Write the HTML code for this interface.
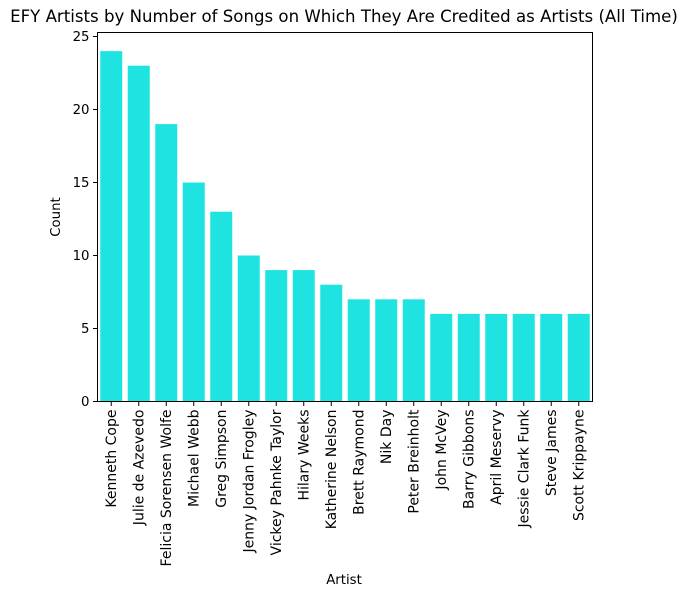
<!DOCTYPE html>
<html><head><meta charset="utf-8"><style>
body{margin:0;background:#fff;}
svg text{font-family:"DejaVu Sans","Liberation Sans",sans-serif;fill:#000;}
</style></head><body>
<svg id="chart" width="688" height="597" xmlns="http://www.w3.org/2000/svg">
<rect width="688" height="597" fill="#fff"/>
<text x="344" y="22" text-anchor="middle" font-size="16.6">EFY Artists by Number of Songs on Which They Are Credited as Artists (All Time)</text>
<g id="bars"></g><g id="xticks"></g><g id="yticks"></g>
<rect x="97.5" y="32.5" width="495" height="369" fill="none" stroke="#000" stroke-width="1"/>
<text x="344" y="584" text-anchor="middle" font-size="13.3">Artist</text>
<text transform="translate(60,217) rotate(-90)" text-anchor="middle" font-size="13.3">Count</text>
</svg>
<script>
const categories=["Kenneth Cope","Julie de Azevedo","Felicia Sorensen Wolfe","Michael Webb","Greg Simpson","Jenny Jordan Frogley","Vickey Pahnke Taylor","Hilary Weeks","Katherine Nelson","Brett Raymond","Nik Day","Peter Breinholt","John McVey","Barry Gibbons","April Meservy","Jessie Clark Funk","Steve James","Scott Krippayne"];
const counts=[24,23,19,15,13,10,9,9,8,7,7,7,6,6,6,6,6,6];
const yTicks=[0,5,10,15,20,25];
const NS="http://www.w3.org/2000/svg";
const L=97.5,R=592.5,B=401.5,ppu=14.6;
const band=(R-L)/categories.length;
const xs=i=>L+band*(i+0.5);
const ys=v=>B-v*ppu;
const bars=document.getElementById('bars'),xt=document.getElementById('xticks'),yt=document.getElementById('yticks');
function mk(t,a){const e=document.createElementNS(NS,t);for(const k in a)e.setAttribute(k,a[k]);return e;}
categories.forEach((c,i)=>{
 const w=band*0.8;
 const r=mk('rect',{x:xs(i)-w/2,y:ys(counts[i]),width:w,height:counts[i]*ppu,fill:'#1fe3e0'});
 
 
 bars.appendChild(r);
 const tk=mk('line',{x1:xs(i),x2:xs(i),y1:B,y2:B+4.5,stroke:'#000'});
 
 
 xt.appendChild(tk);
 const t=mk('text',{transform:`translate(${xs(i)+4.8},${B+8}) rotate(-90)`,'text-anchor':'end','font-size':'14'});
 t.textContent=c;
 
 
 xt.appendChild(t);
});
yTicks.forEach(v=>{
 const tk=mk('line',{x1:L-4.5,x2:L,y1:ys(v),y2:ys(v),stroke:'#000'});
 
 
 yt.appendChild(tk);
 const t=mk('text',{x:L-8,y:ys(v)+4.5,'text-anchor':'end','font-size':'13.3'});
 t.textContent=v;
 
 
 yt.appendChild(t);
});
</script>
</body></html>
